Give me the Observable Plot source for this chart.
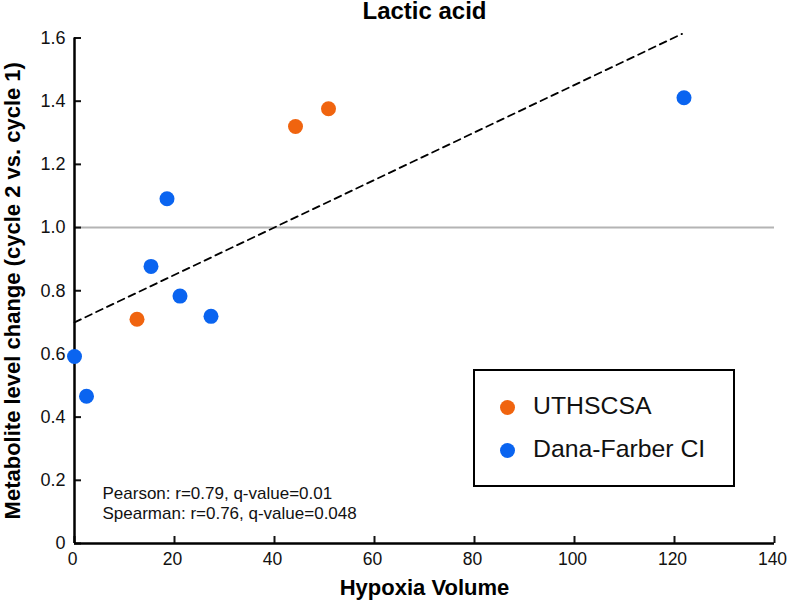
<!DOCTYPE html>
<html>
<head>
<meta charset="utf-8">
<script src="https://cdn.jsdelivr.net/npm/d3@7"></script>
<script src="https://cdn.jsdelivr.net/npm/@observablehq/plot@0.6"></script>
<style>
  body { margin: 0; background: #fff; font-family: "Liberation Sans", Arial, sans-serif; }
  #wrap { position: relative; width: 787px; height: 601px; }
  #legend { position: absolute; left: 473px; top: 369px; width: 258px; height: 114px;
            border: 2px solid #000; background: #fff; }
  .item { position: absolute; left: 0; height: 30px; font-size: 24.8px; color: #111; }
  .item .sw { position: absolute; left: 25px; top: 7px; width: 15px; height: 15px; border-radius: 50%; }
  .item .lb { position: absolute; left: 58px; top: -2px; line-height: 30px; white-space: nowrap; }
</style>
</head>
<body>
<div id="wrap"><div id="chart"></div><div id="legend"></div></div>
<script>
// ---- data ----
const site    = ["Dana-Farber CI","Dana-Farber CI","UTHSCSA","Dana-Farber CI","Dana-Farber CI","Dana-Farber CI","Dana-Farber CI","UTHSCSA","UTHSCSA","Dana-Farber CI"];
const hypoxia = [0.0, 2.4, 12.5, 15.3, 18.5, 21.1, 27.3, 44.2, 50.8, 121.9];
const change  = [0.592, 0.466, 0.710, 0.877, 1.091, 0.783, 0.719, 1.320, 1.376, 1.411];
const siteNames  = ["UTHSCSA", "Dana-Farber CI"];
const siteColors = ["#f0640f", "#0a64f0"];
const trendX = [0, 121.5];
const trendY = [0.70, 1.613];
const refY = [1.0];
const xTicks = [0, 20, 40, 60, 80, 100, 120, 140];
const yTicks = [0, 0.2, 0.4, 0.6, 0.8, 1.0, 1.2, 1.4, 1.6];
const xTickLabels = ["0", "20", "40", "60", "80", "100", "120", "140"];
const yTickLabels = ["0", "0.2", "0.4", "0.6", "0.8", "1.0", "1.2", "1.4", "1.6"];
const title = "Lactic acid";
const xLabel = "Hypoxia Volume";
const yLabel = "Metabolite level change (cycle 2 vs. cycle 1)";
const stats = ["Pearson: r=0.79, q-value=0.01", "Spearman: r=0.76, q-value=0.048"];

// ---- build ----
const points = hypoxia.map((x, i) => ({x, y: change[i], site: site[i]}));
const trend = trendX.map((x, i) => ({x, y: trendY[i]}));
const xLab = xTicks.map((v, i) => ({v, t: xTickLabels[i]}));
const yLab = yTicks.map((v, i) => ({v, t: yTickLabels[i]}));

const chart = Plot.plot({
  width: 787,
  height: 601,
  marginLeft: 74,
  marginRight: 13,
  marginTop: 37.5,
  marginBottom: 58,
  style: {fontFamily: "'Liberation Sans', Arial, sans-serif", background: "#fff", color: "#111", overflow: "visible"},
  x: {domain: [0, 140], ticks: xTicks},
  y: {domain: [0, 1.6], ticks: yTicks},
  color: {domain: siteNames, range: siteColors},
  marks: [
    Plot.ruleY(refY, {x1: 0, x2: 140, stroke: "#b4b4b4", strokeWidth: 2}),
    Plot.line(trend, {x: "x", y: "y", stroke: "#000", strokeWidth: 1.8, strokeDasharray: "7,5"}),
    Plot.axisX({ticks: xTicks, tickSize: -7, strokeWidth: 2, label: null, tickFormat: () => ""}),
    Plot.axisY({ticks: yTicks, tickSize: -7, strokeWidth: 2, label: null, tickFormat: () => ""}),
    Plot.text(xLab, {x: "v", text: "t", frameAnchor: "bottom", dy: 9, dx: -2, lineAnchor: "top", textAnchor: "middle", fontSize: 17.5, fill: "#111"}),
    Plot.text(yLab, {y: "v", text: "t", frameAnchor: "left", dx: -9, lineAnchor: "middle", textAnchor: "end", fontSize: 18, fill: "#111"}),
    Plot.ruleX([0], {y1: 0, y2: 1.6, stroke: "#000", strokeWidth: 2.5}),
    Plot.ruleY([0], {x1: 0, x2: 140, stroke: "#000", strokeWidth: 2.5}),
    Plot.dot(points, {x: "x", y: "y", fill: "site", r: 7.5, stroke: null}),
    Plot.text([title], {frameAnchor: "top", dy: -27, lineAnchor: "middle", textAnchor: "middle", fontSize: 24, fontWeight: "bold", fill: "#000"}),
    Plot.text([xLabel], {frameAnchor: "bottom", dy: 44, lineAnchor: "middle", textAnchor: "middle", fontSize: 22, fontWeight: "bold", fill: "#000"}),
    Plot.text([yLabel], {frameAnchor: "left", dx: -62, rotate: -90, lineAnchor: "middle", textAnchor: "middle", fontSize: 22, fontWeight: "bold", fill: "#000"}),
    Plot.text([stats.join("\n")], {frameAnchor: "bottom-left", dx: 28, dy: -59, textAnchor: "start", lineAnchor: "top", lineHeight: 1.18, fontSize: 17, fill: "#111"})
  ]
});
document.getElementById("chart").appendChild(chart);

// legend
const legend = document.getElementById("legend");
siteNames.forEach((name, i) => {
  const it = document.createElement("div");
  it.className = "item";
  it.style.top = (22 + i * 43) + "px";
  it.innerHTML = `<span class="sw" style="background:${siteColors[i]}"></span><span class="lb"></span>`;
  it.querySelector(".lb").textContent = name;
  legend.appendChild(it);
});
</script>
</body>
</html>
